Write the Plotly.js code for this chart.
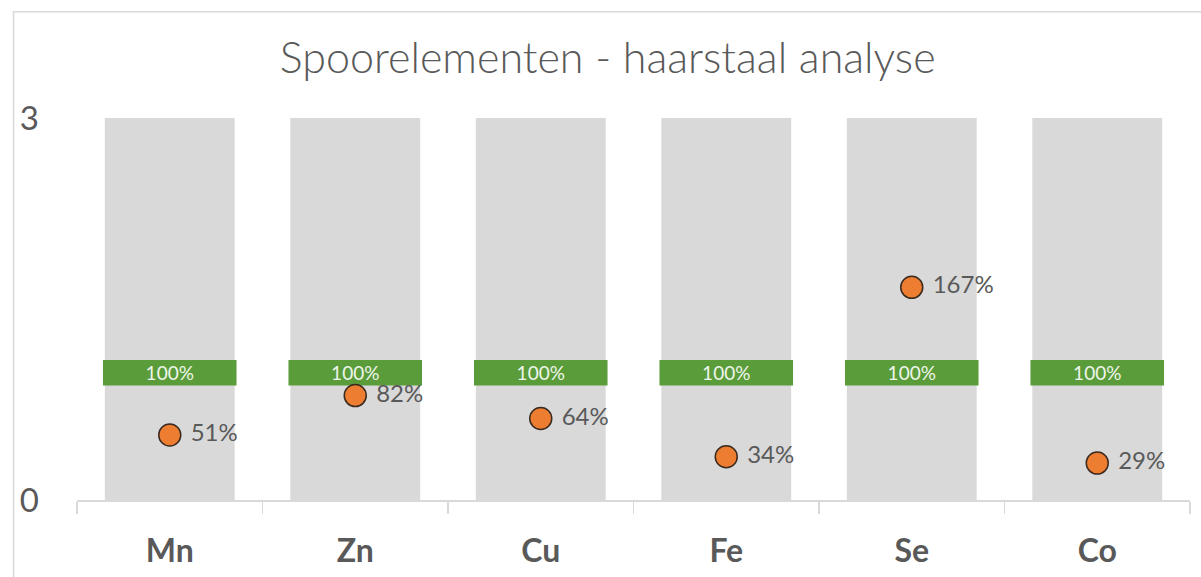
<!DOCTYPE html>
<html>
<head>
<meta charset="utf-8">
<script src="https://cdn.plot.ly/plotly-3.0.1.min.js"></script>
<style>html,body{margin:0;padding:0;background:#fff;}#chart{width:1201px;height:577px;}</style>
</head>
<body>
<div id="chart"></div>
<script>
const categories = ["Mn", "Zn", "Cu", "Fe", "Se", "Co"];
const measured = [0.51, 0.82, 0.64, 0.34, 1.67, 0.29];
const reference = [1, 1, 1, 1, 1, 1];
const rangeMax = [3, 3, 3, 3, 3, 3];
const yTicks = [0, 3];

const FONT = "Lato, 'Open Sans', sans-serif";
const GREY_TXT = "#595959";

const pct = v => Math.round(v * 100) + "%";

const bgBars = {
  type: "bar", x: categories, y: rangeMax, width: 0.7,
  marker: {color: "#d9d9d9"}, hoverinfo: "skip", showlegend: false
};
const refBand = {
  type: "bar", x: categories, y: reference.map(() => 0.2), base: reference.map(v => v - 0.1),
  width: 0.72, marker: {color: "#5b9c3a", line: {width: 0}},
  text: reference.map(pct), textposition: "inside", insidetextanchor: "middle", constraintext: "none",
  textfont: {color: "#eef5ea", size: 19, family: FONT}, textangle: 0,
  hoverinfo: "skip", showlegend: false
};
const dots = {
  type: "scatter", mode: "markers+text", x: categories, y: measured,
  marker: {size: 22, color: "#ed7d31", line: {color: "#3a2a20", width: 1.5}},
  text: measured.map(v => " " + pct(v)), textposition: "middle right",
  textfont: {color: GREY_TXT, size: 24, family: FONT},
  showlegend: false, cliponaxis: false
};

const layout = {
  width: 1201, height: 577,
  margin: {l: 77, r: 11, t: 118, b: 77},
  paper_bgcolor: "#ffffff", plot_bgcolor: "#ffffff",
  barmode: "overlay",
  font: {family: FONT, color: GREY_TXT},
  title: {text: "Spoorelementen - haarstaal analyse", font: {size: 43, color: GREY_TXT, family: FONT, weight: 300},
          x: 0.506, xanchor: "center", y: 0.9, yanchor: "middle"},
  xaxis: {type: "category", showline: true, linecolor: "#d9d9d9", linewidth: 1.5,
          ticks: "outside", tickson: "boundaries", ticklen: 12, tickcolor: "#d9d9d9", tickwidth: 1.5,
          tickfont: {size: 32, color: GREY_TXT, family: FONT, weight: "bold"}, ticklabelstandoff: 22,
          showgrid: false, fixedrange: true},
  yaxis: {range: [0, 3], tickvals: yTicks, showgrid: true, gridcolor: "#d9d9d9", gridwidth: 1.5,
          zeroline: false, showline: false, ticks: "", ticklabelstandoff: 37,
          tickfont: {size: 33, color: GREY_TXT, family: FONT}, fixedrange: true},
  shapes: [{type: "rect", xref: "paper", yref: "paper", x0: -0.057, x1: 1.02, y0: -0.25, y1: 1.278,
            line: {color: "#d9d9d9", width: 1.5}, fillcolor: "rgba(0,0,0,0)", layer: "below"}]
};

Plotly.newPlot("chart", [bgBars, refBand, dots], layout, {displayModeBar: false, staticPlot: true});
</script>
</body>
</html>
